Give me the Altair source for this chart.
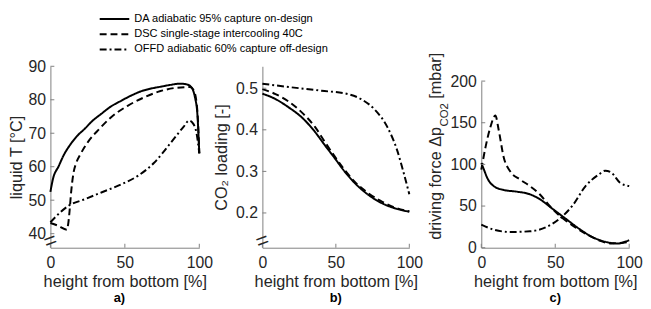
import altair as alt
import pandas as pd

FONT = "Liberation Sans"
INK = "#262626"
AXIS = "#808080"

series = ["DA", "DSC", "OFFD"]
legend_labels = [
    "DA adiabatic 95% capture on-design",
    "DSC single-stage intercooling 40C",
    "OFFD adiabatic 60% capture off-design",
]
dashes = [[1, 0], [7, 4], [7, 3, 2, 3]]

# ---- panel a: liquid temperature [°C]
a_da_x = [0, 1.8, 5.5, 9, 13.2, 18, 23.2, 28, 34.2, 40, 47.5, 54, 60.7, 67, 74, 80, 87.2, 91.6, 94.9, 97.1, 98.7, 100]
a_da_y = [52.5, 56.5, 60.1, 63.5, 66.5, 69.2, 71.4, 73.6, 75.8, 77.8, 79.7, 81.2, 82.5, 83.3, 83.9, 84.4, 84.8, 84.6, 83.6, 80.7, 75.8, 64]
a_dsc_x = [0, 5, 11, 12.1, 12.8, 13.9, 15.5, 17.5, 19.9, 25.4, 33.1, 40.8, 51.9, 62.9, 74, 85, 93.8, 96.5, 98.7, 100]
a_dsc_y = [43.2, 42.4, 41.2, 43.4, 46.4, 52.3, 58.1, 61.3, 63.5, 67.5, 71.4, 74.8, 78.2, 80.7, 82.6, 83.6, 83.8, 82.6, 76.7, 64]
a_offd_x = [0, 5.5, 12.1, 23.2, 34.2, 47.5, 58.5, 69.5, 80.6, 89.4, 93.2, 96, 98.2, 100]
a_offd_y = [43.4, 45.9, 48.3, 50.3, 52.3, 54.7, 57.2, 61.1, 67, 71.9, 73.8, 72.8, 69.9, 64]

# ---- panel b: CO2 loading [-]
b_da_x = [0, 8.9, 17.9, 26.8, 35.8, 42.5, 49.2, 55.9, 62.6, 71.6, 80.5, 89.5, 100]
b_da_y = [0.487, 0.474, 0.454, 0.430, 0.395, 0.363, 0.332, 0.300, 0.273, 0.245, 0.225, 0.212, 0.203]
b_dsc_x = [0, 8.9, 17.9, 26.8, 35.8, 42.5, 49.2, 55.9, 62.6, 71.6, 80.5, 89.5, 100]
b_dsc_y = [0.498, 0.486, 0.468, 0.442, 0.407, 0.371, 0.336, 0.304, 0.276, 0.249, 0.229, 0.214, 0.204]
b_offd_x = [0, 17.9, 40.3, 58.2, 67.1, 76.1, 85, 91.7, 96.2, 100]
b_offd_y = [0.511, 0.503, 0.494, 0.486, 0.474, 0.450, 0.407, 0.351, 0.296, 0.245]

# ---- panel c: driving force Δp_CO2 [mbar]
c_da_x = [0, 1.8, 4, 8.4, 15.1, 24, 32.8, 39.5, 48.3, 57.2, 66.1, 74.9, 83.8, 92.7, 97.1, 100]
c_da_y = [101.6, 93.7, 83.9, 74, 69.3, 67.3, 64.2, 58.3, 46.5, 34.6, 22.8, 13, 7.1, 5.1, 7.1, 9]
c_dsc_x = [0, 2.9, 6.2, 9.5, 11.8, 15.1, 19.5, 26.2, 32.8, 39.5, 46.1, 52.8, 61.6, 70.5, 79.4, 88.2, 100]
c_dsc_y = [93.7, 121, 145, 158.7, 141, 109, 91.7, 81.9, 74, 64.2, 50.4, 38.6, 26.8, 16.9, 9, 5.1, 7]
c_offd_x = [0, 8.4, 19.5, 32.8, 43.9, 52.8, 61.6, 70.5, 79.4, 83.8, 88.2, 93.8, 100]
c_offd_y = [27.6, 21.7, 18.9, 19.7, 24.8, 34.6, 50.4, 74, 87.8, 92.5, 89.8, 78, 74]

x_ticks = [0, 50, 100]
a_ticks = [40, 50, 60, 70, 80, 90]
b_ticks = [0.2, 0.3, 0.4, 0.5]
c_ticks = [0, 50, 100, 150, 200]

H = 184


def long_df(pairs):
    rows = []
    for name, xs, ys in pairs:
        for i, (x, y) in enumerate(zip(xs, ys)):
            rows.append({"series": name, "x": x, "y": y, "i": i})
    return pd.DataFrame(rows)


def panel(df, width, xscale, yscale, ytitle, yticks, yfmt, label, label_x,
          ytitle_pad=4, brk=True, extra=None):
    xaxis = alt.Axis(values=x_ticks, title="height from bottom [%]", ticks=False,
                     labelPadding=7, titlePadding=3, labelFlush=False)
    yaxis = alt.Axis(values=yticks, format=yfmt, title=ytitle, ticks=False,
                     labelPadding=5, titlePadding=ytitle_pad, labelFlush=False)
    lines = alt.Chart(df).mark_line(color="black", strokeWidth=2, interpolate="monotone").encode(
        x=alt.X("x:Q", scale=xscale, axis=xaxis),
        y=alt.Y("y:Q", scale=yscale, axis=yaxis),
        strokeDash=alt.StrokeDash("series:N", scale=alt.Scale(domain=series, range=dashes), legend=None),
        order="i:Q",
    )
    ytk = alt.Chart(pd.DataFrame({"v": yticks})).mark_rule(color=AXIS, strokeWidth=1).encode(
        y=alt.Y("v:Q", scale=yscale, axis=yaxis), x=alt.value(0), x2=alt.value(4))
    xtk = alt.Chart(pd.DataFrame({"v": x_ticks})).mark_rule(color=AXIS, strokeWidth=1).encode(
        x=alt.X("v:Q", scale=xscale, axis=xaxis), y=alt.value(H), y2=alt.value(H - 4))
    lab = alt.Chart(pd.DataFrame({"t": [label]})).mark_text(
        font=FONT, fontSize=13, fontWeight="bold", color="black", baseline="middle").encode(
        text="t:N", x=alt.value(label_x), y=alt.value(H + 51))
    layers = [lines, ytk, xtk, lab]
    if brk:
        layers.append(alt.Chart(pd.DataFrame({"t": ["="]})).mark_text(
            font=FONT, fontSize=22, color=INK, angle=340, baseline="middle").encode(
            text="t:N", x=alt.value(0), y=alt.value(H - 7)))
    if extra:
        layers += extra
    return alt.layer(*layers).properties(width=width, height=H)


# legend (placed above panel a)
legend_layers = []
for k, (lbl, d) in enumerate(zip(legend_labels, dashes)):
    yy = -48 + 15.5 * k
    legend_layers.append(alt.Chart(pd.DataFrame({"t": [lbl]})).mark_rule(
        color="black", strokeWidth=2, strokeDash=d).encode(
        x=alt.value(50), x2=alt.value(80), y=alt.value(yy)))
    legend_layers.append(alt.Chart(pd.DataFrame({"t": [lbl]})).mark_text(
        font=FONT, fontSize=11.2, color="black", align="left", baseline="middle").encode(
        text="t:N", x=alt.value(85), y=alt.value(yy)))

df_a = long_df([("DA", a_da_x, a_da_y), ("DSC", a_dsc_x, a_dsc_y), ("OFFD", a_offd_x, a_offd_y)])
df_b = long_df([("DA", b_da_x, b_da_y), ("DSC", b_dsc_x, b_dsc_y), ("OFFD", b_offd_x, b_offd_y)])
df_c = long_df([("DA", c_da_x, c_da_y), ("DSC", c_dsc_x, c_dsc_y), ("OFFD", c_offd_x, c_offd_y)])

pa = panel(df_a, 151,
           alt.Scale(domain=[0, 100], nice=False),
           alt.Scale(domain=[35.8, 90], nice=False, zero=False),
           "liquid T [°C]", a_ticks, "d", "a)", 70, extra=legend_layers)
pb = panel(df_b, 158,
           alt.Scale(domain=[0, 100], nice=False, range=[0, 149]),
           alt.Scale(domain=[0.1164, 0.5528], nice=False, zero=False),
           "CO₂ loading [-]", b_ticks, ".1f", "b)", 74.5, ytitle_pad=6)

# panel c title with subscript as text pieces
c_title = [
    alt.Chart(pd.DataFrame({"t": ["driving force Δp"]})).mark_text(
        font=FONT, fontSize=16.5, color=INK, angle=270, align="left", baseline="alphabetic").encode(
        text="t:N", x=alt.value(-41), y=alt.value(176)),
    alt.Chart(pd.DataFrame({"t": ["CO2"]})).mark_text(
        font=FONT, fontSize=11.5, color=INK, angle=270, align="left", baseline="alphabetic").encode(
        text="t:N", x=alt.value(-34), y=alt.value(61)),
    alt.Chart(pd.DataFrame({"t": ["[mbar]"]})).mark_text(
        font=FONT, fontSize=16.5, color=INK, angle=270, align="left", baseline="alphabetic").encode(
        text="t:N", x=alt.value(-41), y=alt.value(33)),
]
pc = panel(df_c, 150,
           alt.Scale(domain=[0, 100], nice=False),
           alt.Scale(domain=[0, 200], nice=False, range=[H, 15]),
           None, c_ticks, "d", "c)", 75, brk=False, extra=c_title)

chart = alt.hconcat(pa, pb, pc, spacing=64, bounds="flush").properties(
    padding={"left": 0, "top": 3, "right": 0, "bottom": 0}
).configure_view(stroke=None).configure_axis(
    grid=False, domainColor=AXIS, domainWidth=1,
    labelFont=FONT, labelFontSize=16, labelColor=INK,
    titleFont=FONT, titleFontSize=16.5, titleFontWeight="normal", titleColor=INK,
).configure_text(font=FONT)

chart.save("out.html", embed_options={"renderer": "svg", "actions": False})
